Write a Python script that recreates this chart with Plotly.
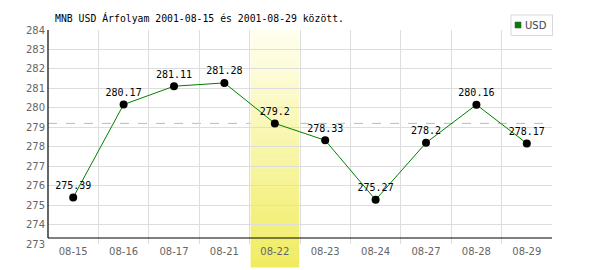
import plotly.graph_objects as go

dates = ["08-15", "08-16", "08-17", "08-21", "08-22", "08-23", "08-24", "08-27", "08-28", "08-29"]
usd = [275.39, 280.17, 281.11, 281.28, 279.2, 278.33, 275.27, 278.2, 280.16, 278.17]
labels = ["275.39", "280.17", "281.11", "281.28", "279.2", "278.33", "275.27", "278.2", "280.16", "278.17"]
y_ticks = list(range(273, 285))
highlight = "08-22"
title = "MNB USD Árfolyam 2001-08-15 és 2001-08-29 között."
series_name = "USD"

W, H = 600, 270
ML, MR, MT, MB = 48, 48, 30, 26
PW, PH = W - ML - MR, H - MT - MB


def px_x(px):
    return (px - ML) / PW


def px_y(py):
    return (H - MB - py) / PH


hi = dates.index(highlight)
shapes = []

# reference dashed line at the highlighted day's value
shapes.append(dict(type="line", xref="paper", yref="y", x0=0, x1=1,
                   y0=usd[hi], y1=usd[hi], layer="between",
                   line=dict(color="#a6c9a6", width=1, dash="dash")))

# gradient band for the highlighted day
top_c = (255, 255, 240)
bot_c = (240, 236, 96)
n = 48
y_top = 1.0
y_bot = px_y(267)
for i in range(n):
    t = (i + 0.5) / n
    c = tuple(int(round(top_c[k] + (bot_c[k] - top_c[k]) * t)) for k in range(3))
    y1 = y_top - (y_top - y_bot) * i / n
    y0 = y_top - (y_top - y_bot) * (i + 1) / n
    shapes.append(dict(type="rect", xref="x", yref="paper", x0=hi - 0.48, x1=hi + 0.48,
                       y0=y0 - 0.002, y1=y1, layer="between", line=dict(width=0),
                       fillcolor="rgb(%d,%d,%d)" % c))

# axis lines
shapes.append(dict(type="line", xref="paper", yref="paper", x0=0, x1=1,
                   y0=px_y(238), y1=px_y(238), layer="above",
                   line=dict(color="black", width=1.2)))
shapes.append(dict(type="line", xref="paper", yref="paper", x0=0, x1=0,
                   y0=px_y(238), y1=1, layer="above",
                   line=dict(color="black", width=1.2)))

# manual legend
shapes.append(dict(type="rect", xref="paper", yref="paper", x0=px_x(511), x1=px_x(552.5),
                   y0=px_y(35.5), y1=px_y(15), layer="above",
                   line=dict(color="#d8d8d8", width=1), fillcolor="white"))
shapes.append(dict(type="rect", xref="paper", yref="paper", x0=px_x(515), x1=px_x(521),
                   y0=px_y(28), y1=px_y(22), layer="above",
                   line=dict(color="#555555", width=0.6), fillcolor="#008000"))

fig = go.Figure()
fig.add_trace(go.Scatter(
    x=dates, y=usd, mode="lines+markers+text", name=series_name,
    text=labels, textposition="top center",
    textfont=dict(family="DejaVu Sans Mono", size=10, color="black"),
    line=dict(color="#008000", width=1),
    marker=dict(color="black", size=8),
    showlegend=False, cliponaxis=False,
))

annotations = [
    dict(text=title, xref="paper", yref="paper", x=px_x(53), y=px_y(18),
         xanchor="left", yanchor="middle", showarrow=False,
         font=dict(family="DejaVu Sans Mono", size=9.8, color="black")),
    dict(text=series_name, xref="paper", yref="paper", x=px_x(523), y=px_y(25.5),
         xanchor="left", yanchor="middle", showarrow=False,
         font=dict(family="DejaVu Sans", size=10, color="#444444")),
]

fig.update_layout(
    width=W, height=H,
    margin=dict(l=ML, r=MR, t=MT, b=MB, pad=0),
    paper_bgcolor="white", plot_bgcolor="white",
    shapes=shapes, annotations=annotations,
    showlegend=False,
    xaxis=dict(type="category", categoryorder="array", categoryarray=dates,
               tickson="boundaries", showgrid=True, gridcolor="#dddddd", gridwidth=1,
               ticks="", showline=False, zeroline=False,
               tickfont=dict(family="DejaVu Sans", size=10, color="#666666"),
               range=[-0.5, len(dates) - 0.5], ticklabelstandoff=0),
    yaxis=dict(range=[y_ticks[0], y_ticks[-1]], tickvals=y_ticks,
               showgrid=True, gridcolor="#dddddd", gridwidth=1,
               ticks="", showline=False, zeroline=False, ticklabelstandoff=2,
               tickfont=dict(family="DejaVu Sans", size=10, color="#666666")),
)

fig.write_html("out.html")
